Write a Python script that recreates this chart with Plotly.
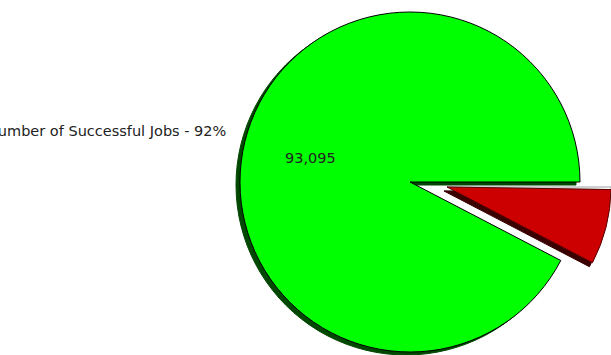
import plotly.graph_objects as go

# ---- data ----
labels = ["Number of Other Jobs", "Number of Failed Jobs", "Number of Successful Jobs"]
values = [250, 7450, 93095]
fill_colors = ["#ffffff", "#cc0000", "#00ff00"]
shadow_colors = ["#8a8a8a", "#3a0000", "#004800"]
outline_colors = ["#a0a0a0", "#5a0000", "#000000"]

W, H = 611, 355
TRANSPARENT = "rgba(0,0,0,0)"


def dom(cx, cy, r):
    return dict(x=[(cx - r) / W, (cx + r) / W], y=[(H - cy - r) / H, (H - cy + r) / H])


def pie(visible, colors, lines, domain, lw):
    fc = [c if v else TRANSPARENT for c, v in zip(colors, visible)]
    lc = [c if v else TRANSPARENT for c, v in zip(lines, visible)]
    return go.Pie(
        labels=labels, values=values, sort=False, direction="clockwise", rotation=90,
        marker=dict(colors=fc, line=dict(color=lc, width=lw)),
        textinfo="none", hoverinfo="skip", domain=domain, showlegend=False,
    )


main_vis = [False, False, True]
pulled_vis = [True, True, False]

fig = go.Figure()
# shadows
fig.add_trace(pie(main_vis, shadow_colors, shadow_colors, dom(406, 185, 170), 1))
fig.add_trace(pie(pulled_vis, shadow_colors, shadow_colors, dom(444, 191, 164), 1))
# pulled slices
fig.add_trace(pie(pulled_vis, fill_colors, outline_colors, dom(447, 187, 164), 1))
# main slice
fig.add_trace(pie(main_vis, fill_colors, outline_colors, dom(410, 182, 170), 1))

total = sum(values)
green_val = values[2]
pct = round(100 * green_val / total)

fig.update_layout(
    width=W, height=H,
    margin=dict(l=0, r=0, t=0, b=0),
    paper_bgcolor="white", plot_bgcolor="white",
    font=dict(family="DejaVu Sans", size=14.5, color="#222222"),
    annotations=[
        dict(text=f"{labels[2]} - {pct}%", x=228 / W, y=(H - 131) / H,
             xref="paper", yref="paper", xanchor="right", yanchor="middle",
             showarrow=False, font=dict(size=14.5, color="#222222")),
        dict(text=f"{green_val:,}", x=310 / W, y=(H - 158) / H,
             xref="paper", yref="paper", xanchor="center", yanchor="middle",
             showarrow=False, font=dict(size=14.5, color="#222222")),
    ],
)

fig.write_html(
    "out.html",
    config={"displayModeBar": False},
    post_script="document.body.style.margin='0px';document.body.style.overflow='hidden';",
)
